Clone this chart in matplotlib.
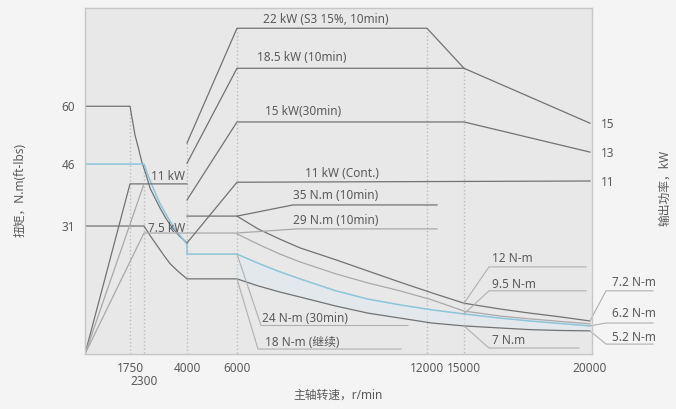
import numpy as np
import matplotlib.pyplot as plt
from matplotlib.ticker import NullLocator

plt.rcParams['font.family'] = ['Noto Sans', 'Noto Sans CJK SC', 'DejaVu Sans']

# speed axis is drawn unevenly in the original, so map tick speeds onto axis length
speed_knots = [0, 1750, 2300, 4000, 6000, 12000, 15000, 20000, 25000]
axis_knots = [0, 45, 59, 102, 152, 342, 379, 505, 631]

speed_ticks = [1750, 4000, 6000, 12000, 15000, 20000]
torque_ticks = [31, 46, 60]
power_ticks = [11, 13, 15]

# low speed torque curves (N.m)
s3_speed = [0, 1750, 1947, 2075, 2210, 2380, 2537, 2730, 2932, 3150, 3394, 3680, 4000]
s3_torque = [60, 60, 53.0, 50.0, 46.6, 43.5, 40.2, 37.8, 35.4, 33.0, 30.8, 28.7, 26.9]
blue_lo_speed = [0, 2300, 2450, 2656, 2900, 3208, 3500, 3842, 4000, 4000, 6000]
blue_lo_torque = [46, 46, 43.4, 40.3, 36.8, 33.4, 30.5, 27.8, 26.6, 24.2, 24.2]
cont_lo_speed = [0, 2300, 2550, 2813, 3050, 3327, 3650, 4000, 6000]
cont_lo_torque = [31, 31, 28.6, 26.3, 24.2, 21.9, 20.0, 18.2, 18.2]
t35_lo_speed = [4000, 6000, 7768, 12811]
t35_lo_torque = [33.4, 33.4, 36.1, 36.1]
t29_lo_speed = [0, 2300, 6000, 7895, 12811]
t29_lo_torque = [0, 29.3, 29.3, 30.3, 30.3]

# high speed torque curves
hi_speed = [6000, 6663, 7358, 7990, 9126, 10137, 11147, 12405, 15000, 16429, 17619, 18810, 20000]
t35_hi = [33.4, 30.3, 27.8, 25.7, 22.8, 20.1, 17.4, 14.8, 12.3, 10.9, 9.9, 9.0, 8.0]
t29_hi = [29.1, 26.6, 24.2, 22.3, 19.4, 17.2, 15.3, 13.1, 10.4, 9.2, 8.5, 7.9, 7.3]
blue_hi = [24.2, 22.0, 19.9, 18.2, 15.3, 13.3, 11.9, 10.7, 9.7, 8.7, 8.0, 7.4, 6.8]
cont_hi = [18.2, 16.5, 15.0, 13.8, 11.6, 9.9, 8.7, 7.5, 6.8, 6.3, 5.9, 5.7, 5.6]

# power lines, drawn in torque-axis units
p11_lo_speed = [0, 1750, 4000]
p11_lo_y = [0, 41.2, 41.2]
p11_ramp_speed = [0, 2300]
p11_ramp_y = [0, 41.2]
p22_speed = [4000, 6000, 12000, 15000, 20000]
p22_y = [51.1, 78.9, 78.9, 69.2, 55.9]
p185_speed = [4000, 6000, 15000]
p185_y = [46.2, 69.2, 69.2]
p15_speed = [4000, 6000, 15000, 20000]
p15_y = [37.3, 56.2, 56.2, 48.9]
p11_speed = [4000, 6000, 20000]
p11_y = [26.9, 41.6, 41.9]

# dotted guides: speed and top value
guide_speed = [1750, 2300, 4000, 6000, 12000, 15000]
guide_top = [60, 46, 51.1, 78.9, 78.9, 69.2]

# leader lines for labels
leaders = [
    ([6000, 6760, 11400], [24.2, 6.9, 6.9]),
    ([6000, 6663, 11179], [18.2, 1.2, 1.2]),
    ([15000, 15992, 19841], [12.3, 21.1, 21.1]),
    ([15000, 15992, 19841], [9.7, 15.3, 15.3]),
    ([15000, 15992, 19563], [6.8, 1.45, 1.45]),
    ([20000, 20635, 22500], [8.0, 15.3, 15.3]),
    ([20000, 20635, 22500], [6.8, 7.5, 7.5]),
    ([20000, 20635, 22500], [5.6, 2.4, 2.4]),
]

labels = [
    ("22 kW (S3 15%, 10min)", 8811, 81.1),
    ("18.5 kW (10min)", 8053, 71.7),
    ("15 kW(30min)", 8084, 58.8),
    ("11 kW (Cont.)", 9316, 43.8),
    ("35 N.m (10min)", 9126, 38.5),
    ("29 N.m (10min)", 9126, 32.3),
    ("11 kW", 3248, 42.9),
    ("7.5 kW", 3208, 30.5),
    ("24 N-m (30min)", 8147, 8.5),
    ("18 N-m (继续)", 8053, 2.7),
    ("12 N-m", 16905, 23.2),
    ("9.5 N-m", 16984, 16.9),
    ("7 N.m", 16786, 3.2),
    ("7.2 N-m", 21746, 17.2),
    ("6.2 N-m", 21746, 9.7),
    ("5.2 N-m", 21746, 4.1),
]


def fwd(v):
    return np.interp(v, speed_knots, axis_knots)


def inv(p):
    return np.interp(p, axis_knots, speed_knots)


def t2kw(t):
    return (np.asarray(t) - 3.4) / 3.5


def kw2t(k):
    return np.asarray(k) * 3.5 + 3.4


dark = '#727272'
light = '#a9a9a9'
blue = '#8cc4da'
txt = '#5a5a5a'

fig = plt.figure(figsize=(6.76, 4.09), dpi=100, facecolor='#f4f4f4')
ax = fig.add_axes([85 / 676, 55 / 409, 507 / 676, 346 / 409])
ax.set_facecolor('#e8e8e8')
ax.set_xscale('function', functions=(fwd, inv))
ax.set_xlim(0, 20080)
ax.set_ylim(0, 83.8)

for s, top in zip(guide_speed, guide_top):
    ax.plot([s, s], [top, 0], color='#bcbcbc', lw=1, ls=':', zorder=1)

ax.fill_between(hi_speed, blue_hi, cont_hi, color='#dde9ee', alpha=0.5, lw=0, zorder=1)

lw = 0.9
ax.plot(s3_speed, s3_torque, color=dark, lw=lw)
ax.plot(blue_lo_speed + hi_speed, blue_lo_torque + blue_hi, color=blue, lw=1.1)
ax.plot(cont_lo_speed + hi_speed, cont_lo_torque + cont_hi, color=dark, lw=lw)
ax.plot(t35_lo_speed, t35_lo_torque, color=dark, lw=lw)
ax.plot(hi_speed, t35_hi, color=dark, lw=lw)
ax.plot(t29_lo_speed, t29_lo_torque, color=light, lw=lw)
ax.plot(hi_speed, t29_hi, color=light, lw=lw)

ax.plot(p11_lo_speed, p11_lo_y, color=dark, lw=lw)
ax.plot(p11_ramp_speed, p11_ramp_y, color=light, lw=lw)
ax.plot(p22_speed, p22_y, color=dark, lw=lw)
ax.plot(p185_speed, p185_y, color=dark, lw=lw)
ax.plot(p15_speed, p15_y, color=dark, lw=lw)
ax.plot(p11_speed, p11_y, color=dark, lw=lw)

for xs, ys in leaders:
    ax.plot(xs, ys, color='#b0b0b0', lw=0.8, clip_on=False)

for text, x, y in labels:
    ax.text(x, y, text, ha='center', va='center', fontsize=8.5, color=txt)

ax.set_xticks(speed_ticks, labels=[str(v) for v in speed_ticks])
ax.set_xticks([2300], labels=['2300'], minor=True)
ax.tick_params(axis='x', which='major', length=0, pad=5.5, labelsize=8.5, labelcolor=txt)
ax.tick_params(axis='x', which='minor', length=0, pad=15, labelsize=8.5, labelcolor=txt)
ax.set_yticks(torque_ticks)
ax.yaxis.set_minor_locator(NullLocator())
ax.tick_params(axis='y', length=0, pad=7, labelsize=8.5, labelcolor=txt)

sec = ax.secondary_yaxis('right', functions=(t2kw, kw2t))
sec.set_yticks(power_ticks)
sec.tick_params(axis='y', length=0, pad=6.5, labelsize=8.5, labelcolor=txt)
sec.spines['right'].set_visible(False)

for sp in ax.spines.values():
    sp.set_color('#c6c6c6')
    sp.set_linewidth(1)

fig.text(338 / 676, 1 - 395 / 409, '主轴转速，r/min', ha='center', va='center',
         fontsize=8.5, color=txt)
fig.text(20 / 676, 1 - 190 / 409, '扭矩，N.m(ft-lbs)', ha='center', va='center',
         rotation=90, fontsize=8.5, color=txt)
fig.text(665 / 676, 1 - 188 / 409, '输出功率，kW', ha='center', va='center',
         rotation=90, fontsize=8.5, color=txt)

fig.savefig('out.png', dpi=100, facecolor=fig.get_facecolor())
